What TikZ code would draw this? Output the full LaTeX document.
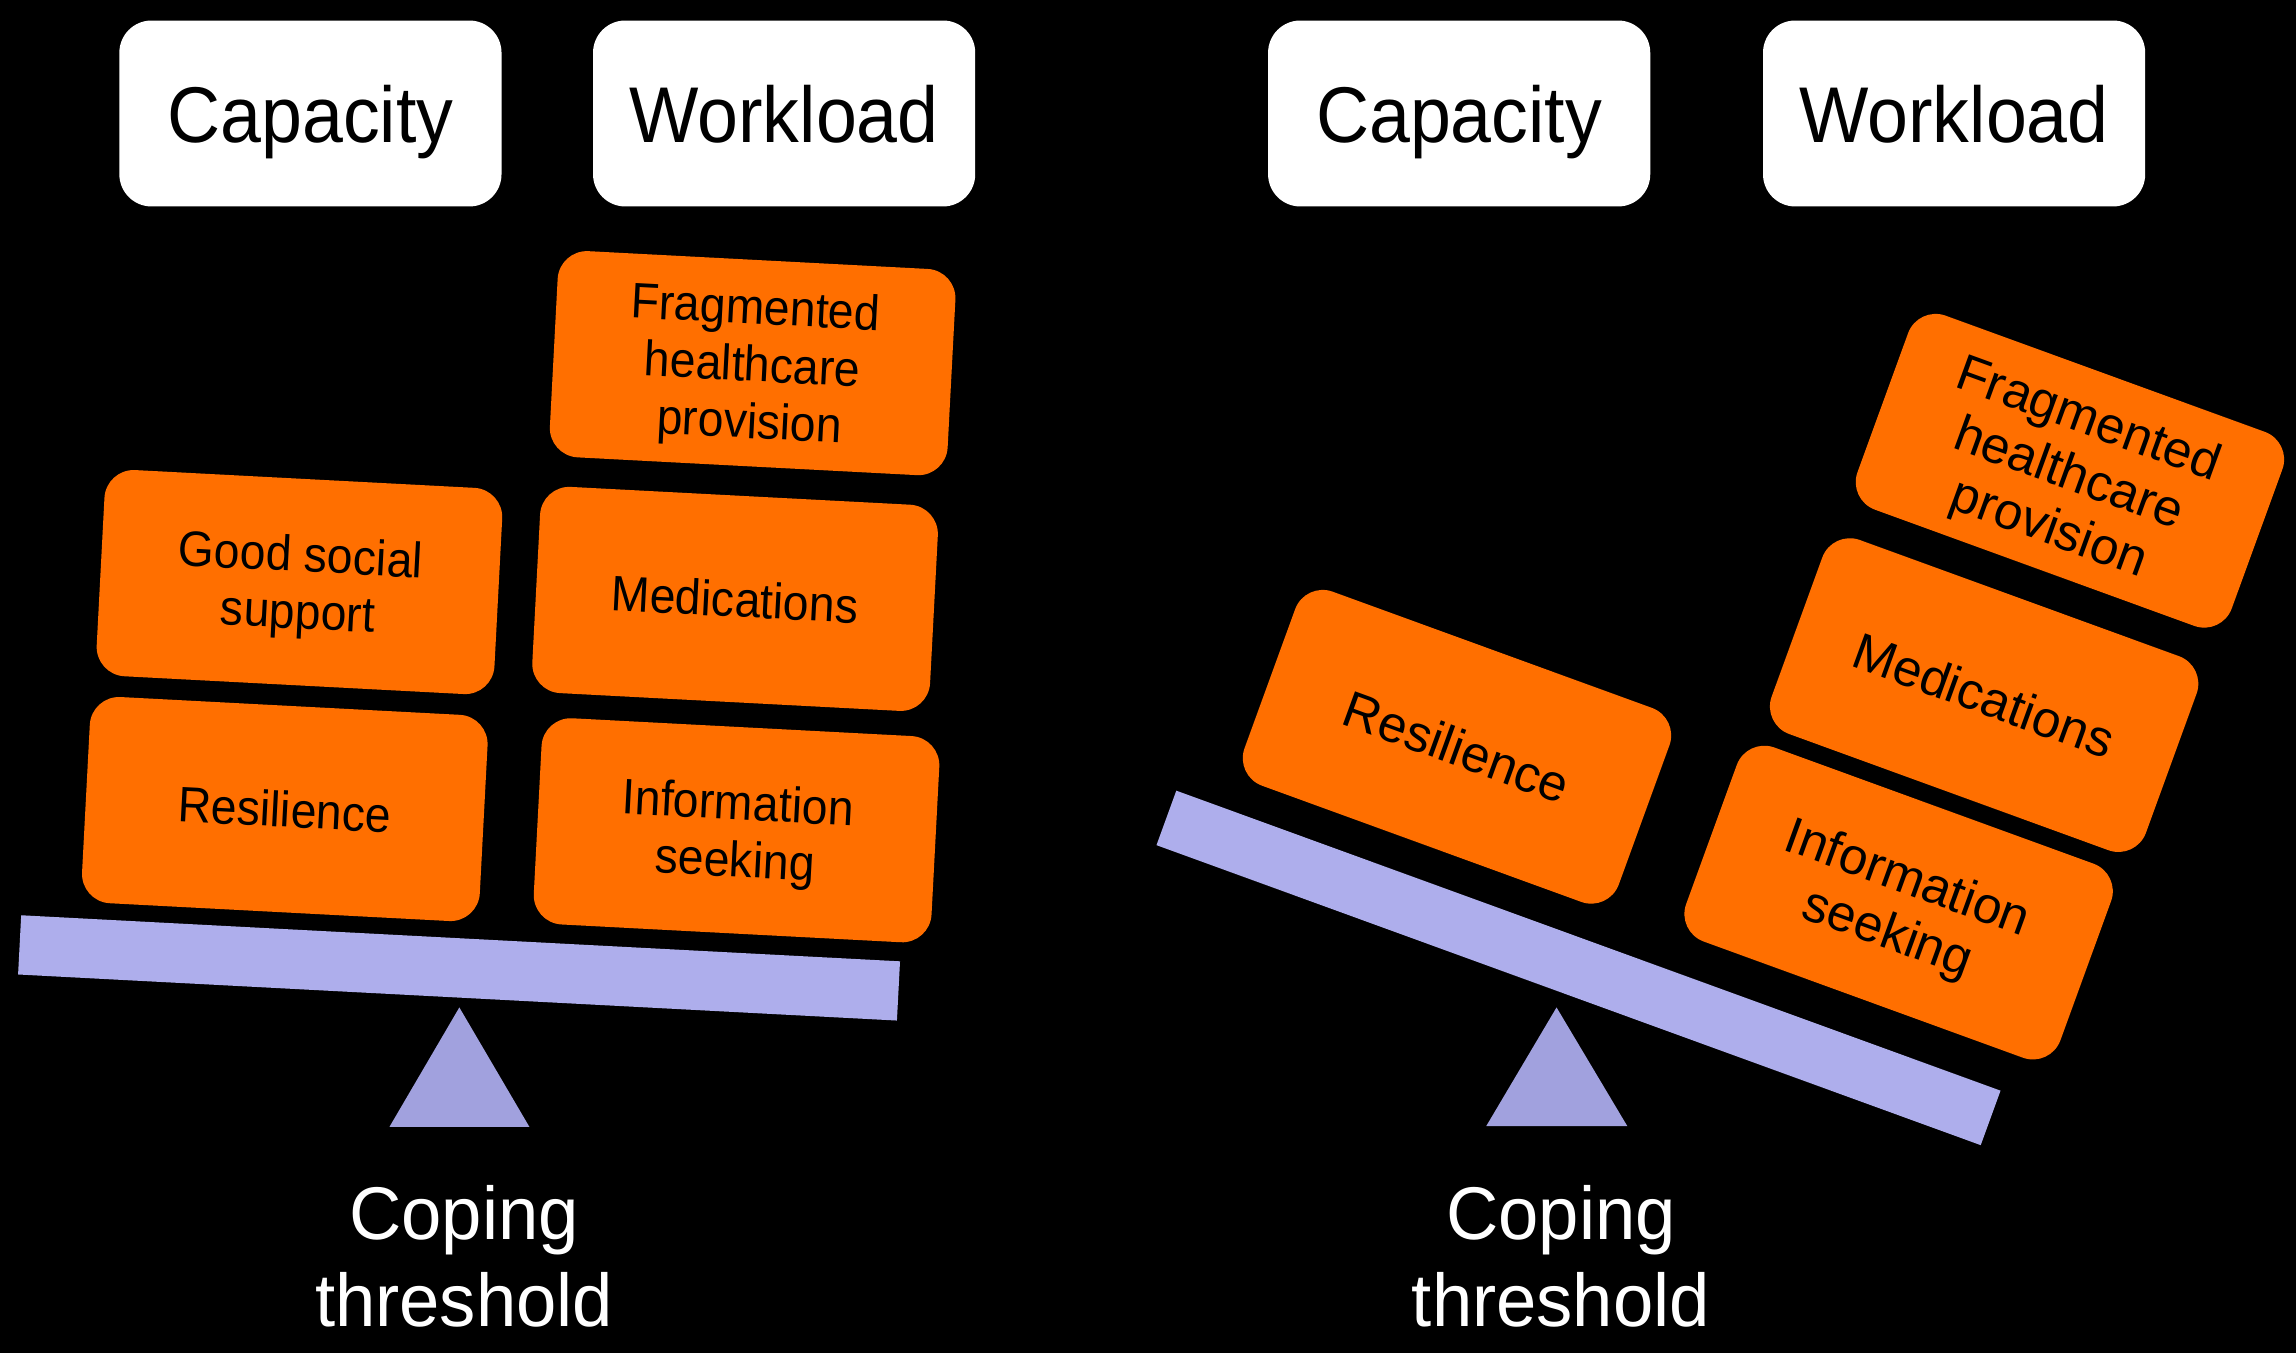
\documentclass[tikz,border=0pt]{standalone}
\usepackage{fontspec}
\setmainfont{Liberation Sans}
\newfontfamily\narrowsans[FakeStretch=0.93]{Liberation Sans}
\newfontfamily\labelsans[FakeStretch=0.97]{Liberation Sans}
\definecolor{boxorange}{RGB}{255,111,0}
\definecolor{beamblue}{RGB}{174,174,236}
\definecolor{pivotblue}{RGB}{161,161,222}
\begin{document}
\begin{tikzpicture}[x=1pt,y=-1pt,
  header/.style={fill=white, rounded corners=22pt, minimum width=261pt,
    minimum height=127pt, inner sep=0pt, text depth=0pt,
    font=\narrowsans\fontsize{54}{60}\selectfont},
  block/.style={fill=boxorange, rounded corners=20pt, minimum width=272pt,
    minimum height=141pt, inner sep=0pt, align=center, text depth=0pt,
    font=\narrowsans\fontsize{34}{39}\selectfont},
  tipped/.style={block, rotate=-20, font=\fontsize{35}{39.5}\selectfont},
  beam/.style={fill=beamblue, minimum width=601pt, minimum height=40.5pt,
    inner sep=0pt},
  pivot/.style={fill=pivotblue},
  caption/.style={text=white, align=center,
    font=\labelsans\fontsize{51}{59}\selectfont}]
  % background
  \fill[black] (0,0) rectangle (1568,924);
  \useasboundingbox (0,0) rectangle (1568,924);

  % ---------- balanced scale ----------
  \node[header] (capL) at (212,77.5) {Capacity};
  \node[header] (workL) at (535.5,77.5) {Workload};

  \node[beam, rotate=-3] (beamL) at (313.5,661) {};
  \coordinate (apexL) at (313.7,688);
  \coordinate (baseLa) at (266,769.5);
  \coordinate (baseLb) at (361.5,769.5);
  \fill[pivot] (apexL) -- (baseLa) -- (baseLb) -- cycle;

  \node[block, rotate=-3] (resL) at (194.5,552.5) {Resilience};
  \node[block, rotate=-3] (socL) at (204.5,397.5) {Good social\\support};
  \node[block, rotate=-3] (infoL) at (503,567) {Information\\seeking};
  \node[block, rotate=-3] (medL) at (502,409) {Medications};
  \node[block, rotate=-3] (fragL) at (514,248) {Fragmented\\healthcare\\provision};

  \node[caption] (copeL) at (317,858) {Coping\\threshold};

  % ---------- tipped scale ----------
  \node[header] (capR) at (996.5,77.5) {Capacity};
  \node[header] (workR) at (1334.5,77.5) {Workload};

  \node[beam, minimum width=599pt, minimum height=39.6pt, rotate=-20] (beamR) at (1078,661) {};
  \coordinate (apexR) at (1063,688);
  \coordinate (baseRa) at (1015,769);
  \coordinate (baseRb) at (1111.3,769);
  \fill[pivot] (apexR) -- (baseRa) -- (baseRb) -- cycle;

  \node[tipped] (resR) at (995,510) {Resilience};
  \node[tipped] (infoR) at (1296.6,616.4) {Information\\seeking};
  \node[tipped] (medR) at (1355,474.7) {Medications};
  \node[tipped] (fragR) at (1413.6,321.5) {Fragmented\\healthcare\\provision};

  \node[caption] (copeR) at (1066,858) {Coping\\threshold};
\end{tikzpicture}
\end{document}
